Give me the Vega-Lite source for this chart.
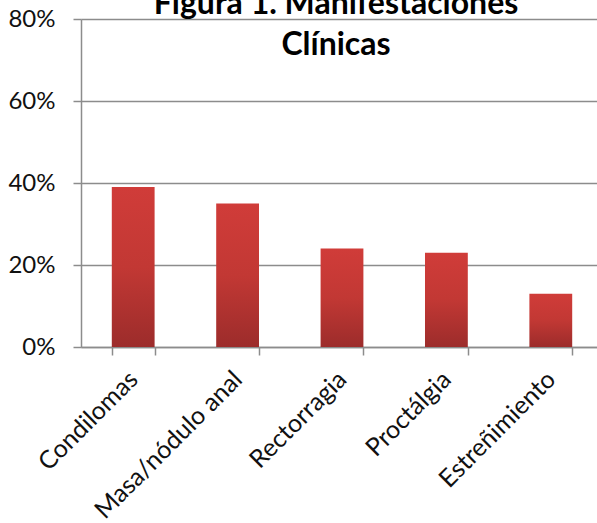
{
  "$schema": "https://vega.github.io/schema/vega-lite/v6.json",
  "width": 522,
  "height": 328,
  "autosize": {"type": "none"},
  "padding": {"left": 81, "top": 19, "right": 0, "bottom": 176},
  "background": "white",
  "title": {
    "text": ["Figura 1. Manifestaciones", "Clínicas"],
    "font": "Lato",
    "fontSize": 32,
    "fontWeight": "bold",
    "color": "#000000",
    "lineHeight": 41,
    "anchor": "middle",
    "frame": "group",
    "baseline": "alphabetic",
    "dx": -6,
    "offset": -80
  },
  "data": {
    "values": [
      {"manifestacion": "Condilomas", "porcentaje": 0.39},
      {"manifestacion": "Masa/nódulo anal", "porcentaje": 0.35},
      {"manifestacion": "Rectorragia", "porcentaje": 0.24},
      {"manifestacion": "Proctálgia", "porcentaje": 0.23},
      {"manifestacion": "Estreñimiento", "porcentaje": 0.13}
    ]
  },
  "mark": {
    "type": "bar",
    "color": {
      "gradient": "linear",
      "x1": 0, "y1": 0, "x2": 0, "y2": 1,
      "stops": [
        {"offset": 0, "color": "#d03c39"},
        {"offset": 0.5, "color": "#c23834"},
        {"offset": 1, "color": "#9c2c2b"}
      ]
    }
  },
  "encoding": {
    "x": {
      "field": "manifestacion",
      "type": "nominal",
      "sort": null,
      "scale": {"paddingInner": 0.59, "paddingOuter": 0.295},
      "axis": {
        "title": null,
        "labelAngle": -45,
        "labelAlign": "right",
        "labelBaseline": "middle",
        "labelFont": "Lato",
        "labelFontSize": 25,
        "labelColor": "#111111",
        "labelPadding": 20,
        "labelOverlap": false,
        "labelLimit": 0,
        "domainColor": "#8c8c8c",
        "domainWidth": 1.5,
        "tickColor": "#8c8c8c",
        "tickWidth": 1.5,
        "tickSize": 8,
        "tickBand": "extent"
      }
    },
    "y": {
      "field": "porcentaje",
      "type": "quantitative",
      "scale": {"domain": [0, 0.8]},
      "axis": {
        "title": null,
        "values": [0, 0.2, 0.4, 0.6, 0.8],
        "format": ".0%",
        "labelFont": "Lato",
        "labelFontSize": 24,
        "labelColor": "#111111",
        "labelPadding": 18,
        "domainColor": "#8c8c8c",
        "domainWidth": 1.5,
        "tickColor": "#8c8c8c",
        "tickWidth": 1.5,
        "tickSize": 8,
        "gridColor": "#8c8c8c",
        "gridWidth": 1.5
      }
    }
  },
  "config": {"view": {"stroke": null}}
}
